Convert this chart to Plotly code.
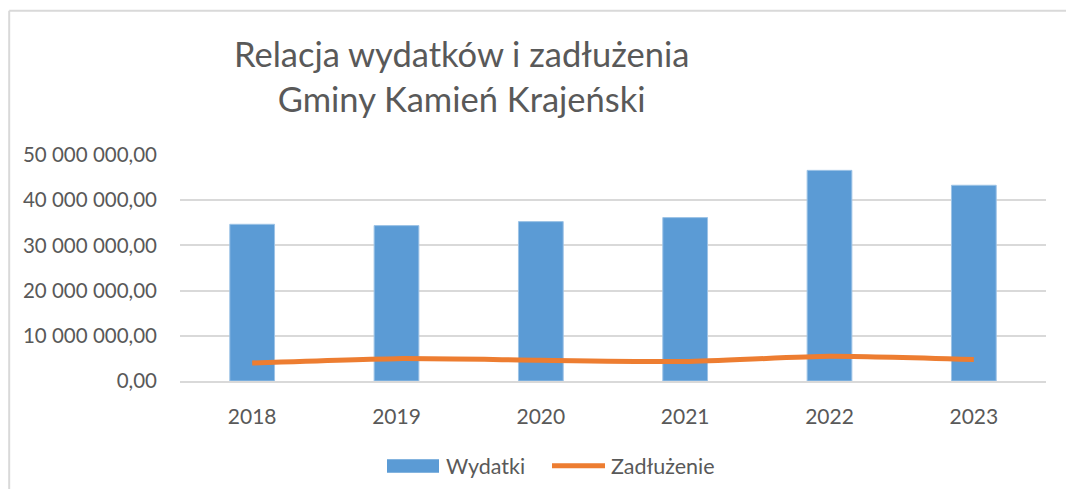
import plotly.graph_objects as go

years = ["2018", "2019", "2020", "2021", "2022", "2023"]
wydatki = [34.67e6, 34.38e6, 35.26e6, 36.15e6, 46.6e6, 43.3e6]
zadluzenie = [3.98e6, 4.95e6, 4.6e6, 4.3e6, 5.46e6, 4.73e6]
tick_vals = [0, 10e6, 20e6, 30e6, 40e6, 50e6]
tick_text = ["0,00", "10 000 000,00", "20 000 000,00", "30 000 000,00", "40 000 000,00", "50 000 000,00"]

OFF = 8  # page body margin offset
W, H = 1074 - 2 * OFF, 497 - 2 * OFF  # fits the window without scrollbars
# target plot area in window pixels
PX0, PX1, PY0, PY1 = 180, 1046, 154.7, 380.7
L, T = PX0 - OFF, PY0 - OFF
pw, ph = PX1 - PX0, PY1 - PY0
R = W - L - pw
B = H - T - ph


def px(x):
    return (x - PX0) / pw


def py(y):
    return (PY1 - y) / ph


FONT = "Lato"
TXT = "#595959"
BLUE = "#5B9BD5"
ORANGE = "#ED7D31"
GRID = "#D9D9D9"

fig = go.Figure()
fig.add_trace(go.Bar(x=years, y=wydatki, name="Wydatki", width=0.31,
                     marker=dict(color=BLUE, line=dict(color="#9DC3E6", width=1))))
fig.add_trace(go.Scatter(x=years, y=zadluzenie, name="Zadłużenie", mode="lines",
                         line=dict(color=ORANGE, width=5, shape="spline", smoothing=0.6)))

BX = 9.2  # left border (window px), as close as the page offset allows
shapes = [
    dict(type="line", xref="paper", yref="paper", x0=px(BX), x1=px(1100), y0=py(10.5), y1=py(10.5),
         line=dict(color=GRID, width=2)),
    dict(type="line", xref="paper", yref="paper", x0=px(BX), x1=px(BX), y0=py(10.5), y1=py(520),
         line=dict(color=GRID, width=2)),
    # legend symbols
    dict(type="rect", xref="paper", yref="paper", x0=px(387), x1=px(439), y0=py(459), y1=py(472.5),
         fillcolor=BLUE, line=dict(width=0)),
    dict(type="line", xref="paper", yref="paper", x0=px(552), x1=px(605), y0=py(465.5), y1=py(465.5),
         line=dict(color=ORANGE, width=5)),
]

annotations = [
    dict(text="Relacja wydatków i zadłużenia<br>Gminy Kamień Krajeński", xref="paper", yref="paper",
         x=px(461), y=py(76), xanchor="center", yanchor="middle", showarrow=False,
         font=dict(family=FONT, size=34.5, color=TXT)),
    dict(text="Wydatki", xref="paper", yref="paper", x=px(444), y=py(465.5), xanchor="left", yanchor="middle",
         showarrow=False, font=dict(family=FONT, size=21.5, color=TXT)),
    dict(text="Zadłużenie", xref="paper", yref="paper", x=px(609), y=py(465.5), xanchor="left", yanchor="middle",
         showarrow=False, font=dict(family=FONT, size=21.5, color=TXT)),
]

fig.update_layout(
    width=W, height=H, margin=dict(l=L, r=R, t=T, b=B),
    paper_bgcolor="white", plot_bgcolor="white",
    showlegend=False, shapes=shapes, annotations=annotations,
    font=dict(family=FONT, color=TXT, size=21),
    xaxis=dict(type="category", showgrid=False, showline=True, linecolor=GRID, linewidth=1.5,
               ticks="", ticklabelstandoff=16, tickfont=dict(family=FONT, size=21, color=TXT)),
    yaxis=dict(range=[0, 50e6], tickvals=tick_vals, ticktext=tick_text, showgrid=True,
               gridcolor=GRID, gridwidth=1.5, zeroline=False, showline=False, ticks="",
               ticklabelstandoff=22, tickfont=dict(family=FONT, size=20.5, color=TXT)),
)

fig.write_html("out.html", config={"displayModeBar": False})
